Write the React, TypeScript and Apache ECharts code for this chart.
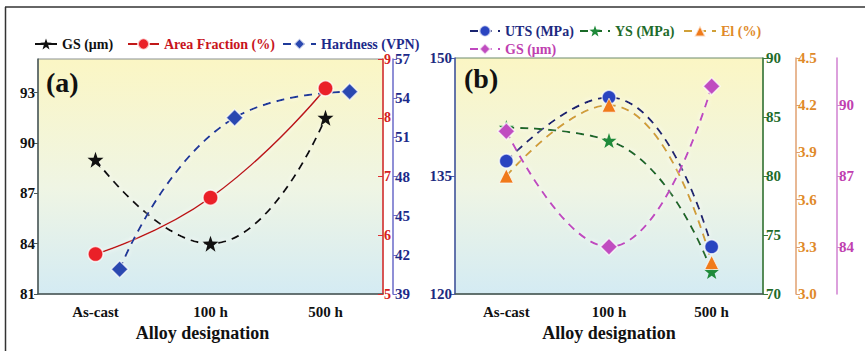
import React, { useEffect, useRef } from 'react';
import * as echarts from 'echarts';

const categories = ['As-cast', '100 h', '500 h'];
// Panel (a)
const gsA = [89.0, 84.0, 91.5];
const areaFraction = [5.68, 6.64, 8.5];
const hardness = [40.9, 52.5, 54.5];
// Panel (b)
const uts = [136.9, 145.0, 126.0];
const ys = [84.1, 83.0, 71.9];
const el = [3.75, 4.2, 3.2];
const gsB = [88.9, 84.0, 90.8];
const gsBTicks = [84, 87, 90];

const HARDNESS_SHIFT = 0.21;
const FONT = 'Liberation Serif, DejaVu Serif, serif';
const STAR =
  'path://M0,-10 L2.35,-3.24 L9.51,-3.09 L3.8,1.24 L5.88,8.09 L0,4 L-5.88,8.09 L-3.8,1.24 L-9.51,-3.09 L-2.35,-3.24 Z';

const bg = () =>
  new echarts.graphic.LinearGradient(0, 0, 0, 1, [
    { offset: 0, color: '#fbf6c4' },
    { offset: 0.55, color: '#eff5e4' },
    { offset: 1, color: '#d4ebf3' },
  ]);

const glow = { shadowColor: 'rgba(255,255,255,0.95)', shadowBlur: 4 };

const label = (color: string, size = 14) => ({
  color,
  fontFamily: FONT,
  fontWeight: 'bold' as const,
  fontSize: size,
});

const yBase = (color: string) => ({
  type: 'value',
  splitLine: { show: false },
  axisLine: { show: true, onZero: false, lineStyle: { color, width: 1.5 } },
});

const legendItem = (name: string, color: string, left: number, top: number, width: number) => ({
  left,
  top,
  itemWidth: width,
  itemHeight: 14,
  textStyle: label(color, 14),
  data: [{ name }],
});

export default function App() {
  const ref = useRef<HTMLDivElement>(null);
  useEffect(() => {
    document.body.style.margin = '0';
    if (!ref.current) return;
    const chart = echarts.init(ref.current, undefined, { renderer: 'svg' });
    const option: any = {
      animation: false,
      backgroundColor: '#ffffff',
      textStyle: { fontFamily: FONT },
      graphic: [
        { type: 'line', shape: { x1: 5, y1: 7, x2: 865, y2: 7 }, style: { stroke: '#333', lineWidth: 1.5 } },
        { type: 'line', shape: { x1: 5.5, y1: 7, x2: 5.5, y2: 351 }, style: { stroke: '#333', lineWidth: 1.5 } },
      ],
      title: [
        { text: '(a)', left: 41, top: 63, textStyle: label('#111', 28) },
        { text: '(b)', left: 459, top: 59, textStyle: label('#111', 28) },
      ],
      legend: [
        legendItem('GS (μm)', '#111', 29, 32, 22),
        legendItem('Area Fraction (%)', '#c8141c', 122, 32, 31),
        legendItem('Hardness (VPN)', '#1c2a8a', 277, 32, 33),
        legendItem('UTS (MPa)', '#1c2a80', 464, 19, 30),
        legendItem('YS (MPa)', '#1e6b2a', 574, 19, 30),
        legendItem('El (%)', '#e08a2a', 678, 19, 32),
        legendItem('GS (μm) ', '#c040b0', 464, 37, 30),
      ],
      grid: [
        {
          left: 38, top: 59, width: 345, height: 235,
          show: true, backgroundColor: bg(), borderColor: '#8a9090', borderWidth: 1,
        },
        {
          left: 455, top: 58, width: 308, height: 236,
          show: true, backgroundColor: bg(), borderColor: '#6d8a6d', borderWidth: 1,
        },
      ],
      xAxis: [
        {
          type: 'category', gridIndex: 0, data: categories,
          axisLine: { onZero: false, lineStyle: { color: '#4a5858', width: 1.5 } },
          axisTick: { alignWithLabel: true, length: 4, lineStyle: { color: '#4a5858' } },
          axisLabel: { ...label('#111', 15), margin: 10 },
          name: 'Alloy designation', nameLocation: 'middle', nameGap: 27,
          nameTextStyle: { ...label('#111', 18), padding: [0, 16, 0, 0] },
        },
        { type: 'value', gridIndex: 0, min: -0.5, max: 2.5, show: false },
        {
          type: 'category', gridIndex: 1, data: categories,
          axisLine: { onZero: false, lineStyle: { color: '#4a5858', width: 1.5 } },
          axisTick: { alignWithLabel: true, length: 4, lineStyle: { color: '#4a5858' } },
          axisLabel: { ...label('#111', 15), margin: 10 },
          name: 'Alloy designation', nameLocation: 'middle', nameGap: 29,
          nameTextStyle: label('#111', 18),
        },
      ],
      yAxis: [
        {
          ...yBase('#4a5858'), gridIndex: 0, position: 'left', min: 81, max: 95, interval: 3,
          axisTick: { show: true, length: 4, lineStyle: { color: '#4a5858' } },
          axisLabel: { ...label('#111', 15), margin: 3, showMaxLabel: false },
        },
        {
          ...yBase('#e03030'), gridIndex: 0, position: 'right', offset: 0, min: 5, max: 9, interval: 1,
          axisTick: { show: true, inside: true, length: 5, lineStyle: { color: '#e03030' } },
          axisLabel: { ...label('#d42020', 14), margin: 1 },
        },
        {
          ...yBase('#6a6ac8'), gridIndex: 0, position: 'right', offset: 10, min: 39, max: 57, interval: 3,
          axisTick: { show: true, length: 4, lineStyle: { color: '#6a6ac8' } },
          axisLabel: { ...label('#1c2a8a', 15), margin: 2 },
        },
        {
          ...yBase('#4a5aaa'), gridIndex: 1, position: 'left', min: 120, max: 150, interval: 15,
          axisTick: { show: true, length: 5, lineStyle: { color: '#4a5aaa' } },
          axisLabel: { ...label('#1c2a80', 15), margin: 3 },
        },
        {
          ...yBase('#3a7a3a'), gridIndex: 1, position: 'right', offset: 0, min: 70, max: 90, interval: 5,
          axisTick: { show: true, length: 5, lineStyle: { color: '#3a7a3a' } },
          axisLabel: { ...label('#1e6b2a', 15), margin: 3 },
        },
        {
          ...yBase('#e0a070'), gridIndex: 1, position: 'right', offset: 33, min: 3, max: 4.5, interval: 0.3,
          axisTick: { show: true, length: 4, lineStyle: { color: '#e0a070' } },
          axisLabel: { ...label('#e08a2a', 15), margin: 2, formatter: (v: number) => v.toFixed(1) },
        },
        {
          ...yBase('#d080d0'), gridIndex: 1, position: 'right', offset: 74, min: 82, max: 92,
          axisTick: { show: true, length: 5, customValues: gsBTicks, lineStyle: { color: '#d080d0' } },
          axisLabel: { ...label('#c040b0', 15), margin: 2, customValues: gsBTicks },
        },
      ],
      series: [
        {
          name: 'GS (μm)', type: 'line', xAxisIndex: 0, yAxisIndex: 0, data: gsA, smooth: true,
          symbol: STAR, symbolSize: 16,
          lineStyle: { color: '#111', width: 2, type: [8, 6], ...glow },
          itemStyle: { color: '#111' },
        },
        {
          name: 'Area Fraction (%)', type: 'line', xAxisIndex: 0, yAxisIndex: 1, data: areaFraction, smooth: true,
          symbol: 'circle', symbolSize: 15,
          lineStyle: { color: '#c01818', width: 1.6, ...glow },
          itemStyle: { color: '#ea2028', borderColor: 'rgba(255,255,255,0.7)', borderWidth: 1.5 },
        },
        {
          name: 'Hardness (VPN)', type: 'line', xAxisIndex: 1, yAxisIndex: 2,
          data: hardness.map((v, i) => [i + HARDNESS_SHIFT, v]), smooth: true,
          symbol: 'diamond', symbolSize: 17,
          lineStyle: { color: '#1f3a9a', width: 2, type: [8, 6], ...glow },
          itemStyle: { color: '#2a48b0', borderColor: 'rgba(255,255,255,0.7)', borderWidth: 1.5 },
        },
        {
          name: 'UTS (MPa)', type: 'line', xAxisIndex: 2, yAxisIndex: 3, data: uts, smooth: true,
          symbol: 'circle', symbolSize: 14,
          lineStyle: { color: '#1a2470', width: 2, type: [8, 6], ...glow },
          itemStyle: { color: '#2a44c0', borderColor: 'rgba(255,255,255,0.7)', borderWidth: 1.5 },
        },
        {
          name: 'YS (MPa)', type: 'line', xAxisIndex: 2, yAxisIndex: 4, data: ys, smooth: true,
          symbol: STAR, symbolSize: 15,
          lineStyle: { color: '#1b6a28', width: 2, type: [8, 6], ...glow },
          itemStyle: { color: '#1f8a3a' },
        },
        {
          name: 'El (%)', type: 'line', xAxisIndex: 2, yAxisIndex: 5, data: el, smooth: true,
          symbol: 'triangle', symbolSize: 14,
          lineStyle: { color: '#d0a038', width: 2, type: [8, 6], ...glow },
          itemStyle: { color: '#f07a1a', borderColor: 'rgba(255,255,255,0.7)', borderWidth: 1 },
        },
        {
          name: 'GS (μm) ', type: 'line', xAxisIndex: 2, yAxisIndex: 6, data: gsB, smooth: true,
          symbol: 'diamond', symbolSize: 17,
          lineStyle: { color: '#c048c0', width: 2, type: [8, 6], ...glow },
          itemStyle: { color: '#c04cc0', borderColor: 'rgba(255,255,255,0.7)', borderWidth: 1.5 },
        },
      ],
    };
    chart.setOption(option);
    return () => chart.dispose();
  }, []);
  return <div ref={ref} style={{ width: 865, height: 351 }} />;
}
